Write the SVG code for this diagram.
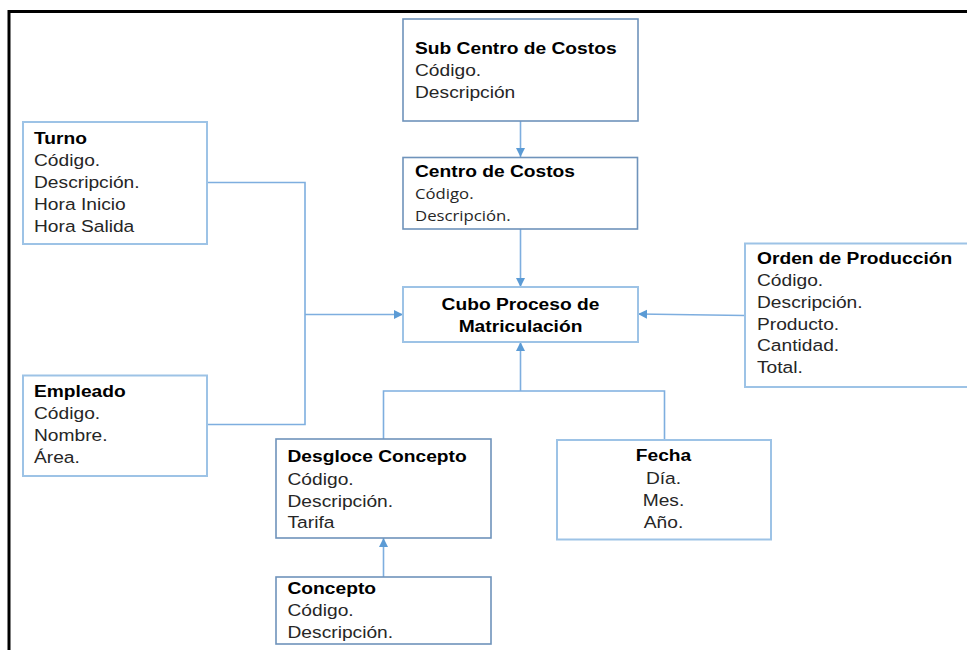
<svg xmlns="http://www.w3.org/2000/svg" width="967" height="650" viewBox="0 0 967 650">
<defs>
<style>
.bxd{fill:#fff;stroke:#6f93bb;stroke-width:1.6}
.bxl{fill:#fff;stroke:#9dc3e6;stroke-width:2}
.t{font-family:"Liberation Sans",Arial,sans-serif;font-size:17px;fill:#262626}
.b{font-weight:bold;fill:#000}
.os{font-family:"Open Sans","Noto Sans",sans-serif;font-size:14.8px;fill:#262626}
.c{fill:none;stroke:#7eaedf;stroke-width:1.6}
</style>
<marker id="ah" markerUnits="userSpaceOnUse" markerWidth="10" markerHeight="10" refX="9" refY="4.5" orient="auto">
<path d="M0,0 L9,4.5 L0,9 z" fill="#5b9bd5"/>
</marker>
</defs>
<rect width="967" height="650" fill="#fff"/>
<path d="M9,650 V11.5 H967" fill="none" stroke="#000" stroke-width="3"/>

<g id="connectors">
<line class="c" x1="520.5" y1="121" x2="520.5" y2="157" marker-end="url(#ah)"/>
<line class="c" x1="520.5" y1="229" x2="520.5" y2="287" marker-end="url(#ah)"/>
<path class="c" d="M207,182.5 H305 V424.5 H207"/>
<line class="c" x1="305" y1="314.5" x2="403" y2="314.5" marker-end="url(#ah)"/>
<line class="c" x1="745" y1="315.5" x2="638" y2="314" marker-end="url(#ah)"/>
<path class="c" d="M383.5,439 V391 H664.5 V440"/>
<line class="c" x1="520.5" y1="391" x2="520.5" y2="342" marker-end="url(#ah)"/>
<line class="c" x1="383.5" y1="577" x2="383.5" y2="538" marker-end="url(#ah)"/>
</g>

<g id="sub-centro-costos">
<rect class="bxd" x="403" y="19" width="235" height="102"/>
<text class="t" transform="translate(415 0) scale(1.13 1)"><tspan class="b" x="0" y="54.5">Sub Centro de Costos</tspan><tspan x="0" y="76.5">Código.</tspan><tspan x="0" y="98.5">Descripción</tspan></text>
</g>

<g id="centro-costos">
<rect class="bxd" x="403" y="157.5" width="234.5" height="71.5"/>
<text class="t b" transform="translate(415 0) scale(1.13 1)" x="0" y="177">Centro de Costos</text>
<text class="os" transform="translate(415 0) scale(1.13 1)"><tspan x="0" y="199.5">Código.</tspan><tspan x="0" y="221">Descripción.</tspan></text>
</g>

<g id="turno">
<rect class="bxl" x="23" y="122" width="184" height="122"/>
<text class="t" transform="translate(34 0) scale(1.13 1)"><tspan class="b" x="0" y="144">Turno</tspan><tspan x="0" y="166">Código.</tspan><tspan x="0" y="188">Descripción.</tspan><tspan x="0" y="210">Hora Inicio</tspan><tspan x="0" y="232">Hora Salida</tspan></text>
</g>

<g id="empleado">
<rect class="bxl" x="23" y="375.5" width="184" height="100.5"/>
<text class="t" transform="translate(34 0) scale(1.13 1)"><tspan class="b" x="0" y="397">Empleado</tspan><tspan x="0" y="419">Código.</tspan><tspan x="0" y="441">Nombre.</tspan><tspan x="0" y="463">Área.</tspan></text>
</g>

<g id="cubo">
<rect class="bxl" x="403" y="287" width="235" height="55"/>
<text class="t b" text-anchor="middle" transform="translate(520.5 0) scale(1.13 1)"><tspan x="0" y="310.5">Cubo Proceso de</tspan><tspan x="0" y="332">Matriculación</tspan></text>
</g>

<g id="orden-produccion">
<rect class="bxl" x="745" y="243.5" width="240" height="143.5"/>
<text class="t" transform="translate(757 0) scale(1.13 1)"><tspan class="b" x="0" y="264">Orden de Producción</tspan><tspan x="0" y="286">Código.</tspan><tspan x="0" y="308">Descripción.</tspan><tspan x="0" y="330">Producto.</tspan><tspan x="0" y="351.5">Cantidad.</tspan><tspan x="0" y="373.5">Total.</tspan></text>
</g>

<g id="desgloce-concepto">
<rect class="bxd" x="276" y="439" width="215" height="99"/>
<text class="t" transform="translate(287.5 0) scale(1.13 1)"><tspan class="b" x="0" y="462.5">Desgloce Concepto</tspan><tspan x="0" y="485">Código.</tspan><tspan x="0" y="507">Descripción.</tspan><tspan x="0" y="528.5">Tarifa</tspan></text>
</g>

<g id="fecha">
<rect class="bxl" x="557" y="440" width="214" height="99.5"/>
<text class="t" text-anchor="middle" transform="translate(663.5 0) scale(1.13 1)"><tspan class="b" x="0" y="461.5">Fecha</tspan><tspan x="0" y="484">Día.</tspan><tspan x="0" y="506">Mes.</tspan><tspan x="0" y="528">Año.</tspan></text>
</g>

<g id="concepto">
<rect class="bxd" x="276" y="577" width="215" height="67"/>
<text class="t" transform="translate(287.5 0) scale(1.13 1)"><tspan class="b" x="0" y="594">Concepto</tspan><tspan x="0" y="616.5">Código.</tspan><tspan x="0" y="638">Descripción.</tspan></text>
</g>
</svg>
